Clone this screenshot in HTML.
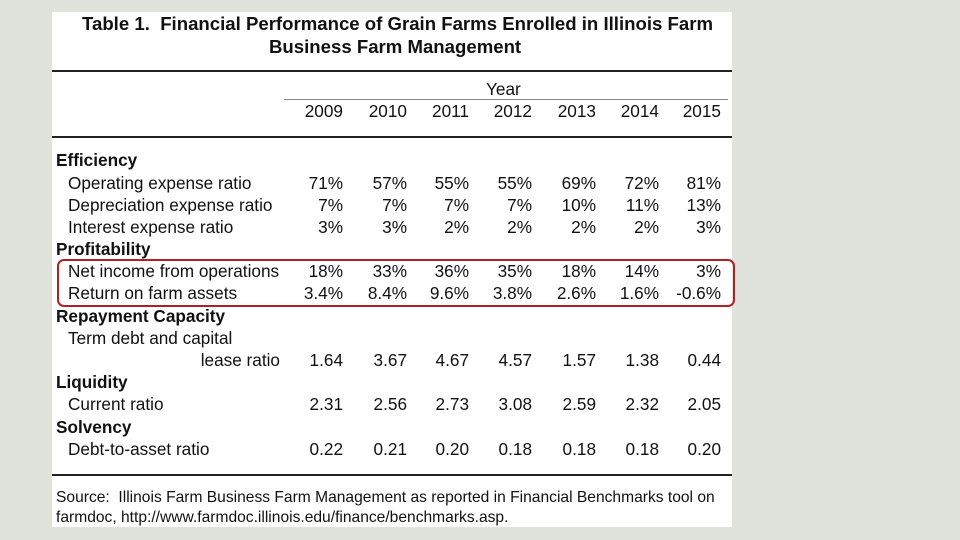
<!DOCTYPE html>
<html><head><meta charset="utf-8"><style>
body{margin:0;width:960px;height:540px;background:#dfe3dc;position:relative;overflow:hidden;font-family:"Liberation Sans",Arial,sans-serif;color:#111}
#card{position:absolute;left:52px;top:12px;width:680px;height:515px;background:#fff}
.t{position:absolute;white-space:nowrap;font-size:17.2px;line-height:20px}
.b{font-weight:bold}
.r{text-align:right;width:70px}
.hl{position:absolute;background:#222;height:2px}
</style></head><body>
<div id="card"></div>
<div class="t b" style="left:82px;top:14px;font-size:18.6px;">Table 1.&nbsp; Financial Performance of Grain Farms Enrolled in Illinois Farm</div>
<div class="t b" style="left:269px;top:37px;font-size:18.6px;">Business Farm Management</div>
<div class="hl" style="left:52px;top:70px;width:680px"></div>
<div class="t" style="left:486px;top:79px">Year</div>
<div class="hl" style="left:284px;top:99px;width:444px;height:1px;background:#888"></div>
<div class="hl" style="left:52px;top:136px;width:680px"></div>
<div class="hl" style="left:52px;top:474px;width:680px"></div>
<div id="rows"></div>
<div style="position:absolute;left:57px;top:259px;width:674px;height:44px;border:2px solid #b22025;border-radius:7px"></div>
<div class="t" style="left:56px;top:488px;font-size:15.6px;line-height:20px">Source:&nbsp; Illinois Farm Business Farm Management as reported in Financial Benchmarks tool on<br>farmdoc, http://www.farmdoc.illinois.edu/finance/benchmarks.asp.</div>
<script>
const years=["2009","2010","2011","2012","2013","2014","2015"];
const colRight=[343,407,469,532,596,659,721];
const rows=[
["Efficiency",160,1,null],
["Operating expense ratio",183,0,["71%","57%","55%","55%","69%","72%","81%"]],
["Depreciation expense ratio",205,0,["7%","7%","7%","7%","10%","11%","13%"]],
["Interest expense ratio",227,0,["3%","3%","2%","2%","2%","2%","3%"]],
["Profitability",249,1,null],
["Net income from operations",271,0,["18%","33%","36%","35%","18%","14%","3%"]],
["Return on farm assets",293,0,["3.4%","8.4%","9.6%","3.8%","2.6%","1.6%","-0.6%"]],
["Repayment Capacity",316,1,null],
["Term debt and capital",338,0,null],
["lease ratio",360,2,["1.64","3.67","4.67","4.57","1.57","1.38","0.44"]],
["Liquidity",382,1,null],
["Current ratio",404,0,["2.31","2.56","2.73","3.08","2.59","2.32","2.05"]],
["Solvency",427,1,null],
["Debt-to-asset ratio",449,0,["0.22","0.21","0.20","0.18","0.18","0.18","0.20"]]
];
const c=document.getElementById('rows');
function mk(txt,x,y,cls,name){const d=document.createElement('div');d.className='t '+cls;d.textContent=txt;d.style.left=x+'px';d.style.top=(y-10)+'px';


c.appendChild(d);return d;}
years.forEach((y,i)=>{mk(y,colRight[i]-70,111,'r','year-'+y);});
rows.forEach((r,ri)=>{
 let x=r[2]===1?56:68, cls=r[2]===1?'b':'';
 if(r[2]===2){const d=mk(r[0],0,r[1],'','row-label');d.style.left='auto';d.style.right=(960-280)+'px';}
 else mk(r[0],x,r[1],cls,r[2]===1?'section-label':'row-label');
 if(r[3])r[3].forEach((v,i)=>mk(v,colRight[i]-70,r[1],'r','cell-'+years[i]));
});
</script>
</body></html>
